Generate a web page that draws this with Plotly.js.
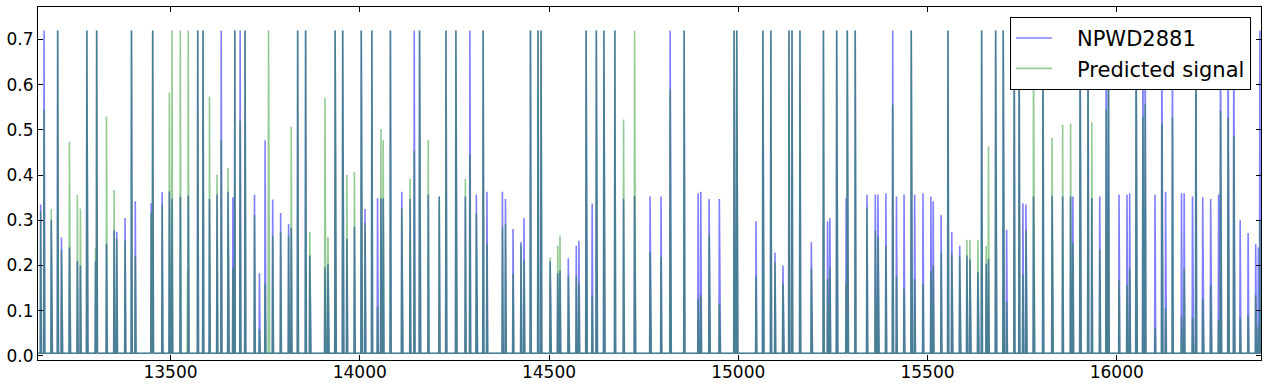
<!DOCTYPE html>
<html>
<head>
<meta charset="utf-8">
<script src="https://cdn.plot.ly/plotly-3.0.1.min.js"></script>
<style>html,body{margin:0;padding:0;background:#fff;}#chart{width:1278px;height:386px;}</style>
</head>
<body>
<div id="chart"></div>
<script>
// sample index range of the series
const xStart = 13150;
const xEnd = 16380;
// resting level of both signals
const baseline = 0.006;

// sample positions where a pulse occurs
const spikeX = [
13157,13166,13185,13202,13212,13233,13254,13262,13279,13302,13305,13331,13351,13358,13380,13397,13407,13449,13453,13478,
13497,13504,13526,13545,13547,13572,13586,13603,13623,13634,13652,13665,13670,13684,13697,13722,13735,13750,13759,13770,
13791,13812,13819,13836,13857,13868,13908,13916,13935,13955,13966,13986,14004,14014,14032,14047,14056,14062,14081,14111,
14133,14144,14158,14181,14210,14228,14254,14279,14291,14308,14326,14336,14377,14385,14405,14426,14434,14451,14471,14479,
14503,14523,14529,14551,14572,14579,14598,14614,14625,14645,14674,14697,14726,14767,14796,14820,14857,14894,14901,14923,
14950,14989,14996,15047,15065,15086,15097,15118,15134,15142,15163,15193,15225,15236,15242,15260,15285,15288,15309,15340,
15362,15369,15390,15408,15418,15438,15457,15466,15488,15509,15515,15536,15554,15564,15585,15604,15612,15633,15643,15655,
15661,15680,15700,15709,15729,15742,15752,15760,15780,15805,15829,15857,15878,15884,15903,15924,15934,15955,15972,15978,
16006,16027,16034,16051,16069,16075,16101,16119,16129,16147,16171,16178,16200,16209,16227,16248,16269,16274,16294,16309,
16326,16347,16367,16374,16378
];

// NPWD2881 pulse heights
const npwd = [
0.335,0.72,0.30,0.72,0.262,0.24,0.21,0.20,0.72,0.21,0.72,0.248,0.278,0.275,0.305,0.72,0.342,0.338,0.72,0.362,
0.364,0.348,0.352,0.006,0.355,0.72,0.72,0.347,0.357,0.72,0.363,0.351,0.72,0.72,0.72,0.357,0.183,0.477,0.006,0.346,
0.316,0.292,0.283,0.72,0.72,0.222,0.196,0.203,0.72,0.72,0.259,0.286,0.72,0.325,0.72,0.349,0.349,0.349,0.72,0.363,
0.347,0.72,0.72,0.357,0.353,0.72,0.72,0.353,0.72,0.357,0.72,0.363,0.363,0.347,0.281,0.252,0.305,0.72,0.72,0.72,
0.209,0.183,0.189,0.216,0.244,0.255,0.72,0.337,0.72,0.72,0.72,0.348,0.354,0.353,0.353,0.72,0.72,0.36,0.363,0.347,
0.347,0.72,0.72,0.298,0.72,0.72,0.229,0.20,0.72,0.72,0.72,0.252,0.72,0.298,0.305,0.72,0.349,0.72,0.72,0.357,
0.357,0.357,0.36,0.72,0.353,0.357,0.72,0.357,0.36,0.353,0.342,0.312,0.72,0.274,0.244,0.222,0.214,0.185,0.72,0.204,
0.214,0.72,0.72,0.279,0.72,0.72,0.338,0.335,0.353,0.72,0.353,0.353,0.353,0.353,0.72,0.72,0.349,0.353,0.72,0.72,
0.357,0.357,0.36,0.72,0.72,0.72,0.357,0.72,0.363,0.72,0.36,0.36,0.353,0.72,0.351,0.347,0.357,0.72,0.72,0.72,
0.30,0.272,0.248,0.24,0.72
];

// Predicted signal pulse heights
const predicted = [
0.32,0.545,0.325,0.72,0.235,0.474,0.356,0.326,0.72,0.238,0.72,0.53,0.367,0.26,0.255,0.72,0.222,0.317,0.72,0.335,
0.583,0.72,0.72,0.19,0.72,0.72,0.72,0.574,0.401,0.478,0.416,0.194,0.72,0.519,0.72,0.312,0.059,0.16,0.72,0.266,
0.274,0.266,0.507,0.72,0.72,0.275,0.571,0.263,0.72,0.72,0.401,0.407,0.72,0.294,0.72,0.109,0.502,0.478,0.72,0.328,
0.392,0.454,0.72,0.478,0.353,0.72,0.72,0.392,0.445,0.315,0.72,0.248,0.285,0.292,0.182,0.246,0.213,0.72,0.72,0.72,
0.218,0.244,0.266,0.176,0.176,0.16,0.72,0.135,0.72,0.72,0.72,0.523,0.72,0.23,0.219,0.589,0.72,0.126,0.135,0.268,
0.115,0.72,0.72,0.176,0.72,0.72,0.207,0.161,0.72,0.72,0.72,0.193,0.72,0.17,0.198,0.72,0.161,0.72,0.72,0.329,
0.278,0.264,0.244,0.556,0.176,0.148,0.72,0.171,0.16,0.187,0.199,0.227,0.72,0.227,0.22,0.257,0.257,0.257,0.72,0.244,
0.464,0.72,0.72,0.12,0.72,0.72,0.179,0.278,0.72,0.72,0.482,0.511,0.514,0.25,0.72,0.72,0.517,0.235,0.545,0.72,
0.167,0.157,0.193,0.72,0.529,0.558,0.061,0.514,0.106,0.527,0.087,0.193,0.085,0.72,0.126,0.156,0.08,0.543,0.527,0.486,
0.084,0.09,0.135,0.065,0.30
];

const seriesNames = ['NPWD2881', 'Predicted signal'];
const xTicks = [13500, 14000, 14500, 15000, 15500, 16000];
const yTicks = [0.0, 0.1, 0.2, 0.3, 0.4, 0.5, 0.6, 0.7];

function buildSeries(heights) {
  const xs = [], ys = [];
  const map = new Map();
  spikeX.forEach((x, i) => map.set(x, heights[i]));
  for (let x = xStart; x <= xEnd; x++) {
    xs.push(x);
    ys.push(map.has(x) ? map.get(x) : baseline);
  }
  return {xs, ys};
}

const s1 = buildSeries(npwd);
const s2 = buildSeries(predicted);
const pad = '\u00a0\u00a0\u00a0';

const traces = [
  {x: s1.xs, y: s1.ys, type: 'scatter', mode: 'lines', name: pad + seriesNames[0],
   line: {color: 'rgba(0,0,255,0.5)', width: 1.6}},
  {x: s2.xs, y: s2.ys, type: 'scatter', mode: 'lines', name: pad + seriesNames[1],
   line: {color: 'rgba(0,128,0,0.42)', width: 1.6}}
];

const axisCommon = {
  showline: true, linecolor: '#000', linewidth: 1, mirror: 'ticks',
  ticks: 'inside', ticklen: 5, tickwidth: 1, tickcolor: '#000',
  showgrid: false, zeroline: false,
  tickfont: {family: 'DejaVu Sans', size: 17, color: '#000'}
};

const layout = {
  width: 1278, height: 386,
  margin: {l: 38, r: 17, t: 7, b: 26},
  paper_bgcolor: '#fff', plot_bgcolor: '#fff',
  font: {family: 'DejaVu Sans', color: '#000'},
  showlegend: true,
  xaxis: Object.assign({}, axisCommon, {range: [13150, 16381], tickvals: xTicks, ticktext: xTicks.map(String), ticklabelstandoff: -3}),
  yaxis: Object.assign({}, axisCommon, {range: [-0.009, 0.772], tickvals: yTicks, ticktext: yTicks.map(v => v.toFixed(1))}),
  legend: {x: 0.9918, y: 0.972, xanchor: 'right', yanchor: 'top',
    bgcolor: '#fff', bordercolor: '#000', borderwidth: 1, itemwidth: 36,
    font: {family: 'DejaVu Sans', size: 21, color: '#000'}}
};

Plotly.newPlot('chart', traces, layout, {displayModeBar: false, staticPlot: true});
</script>
</body>
</html>
